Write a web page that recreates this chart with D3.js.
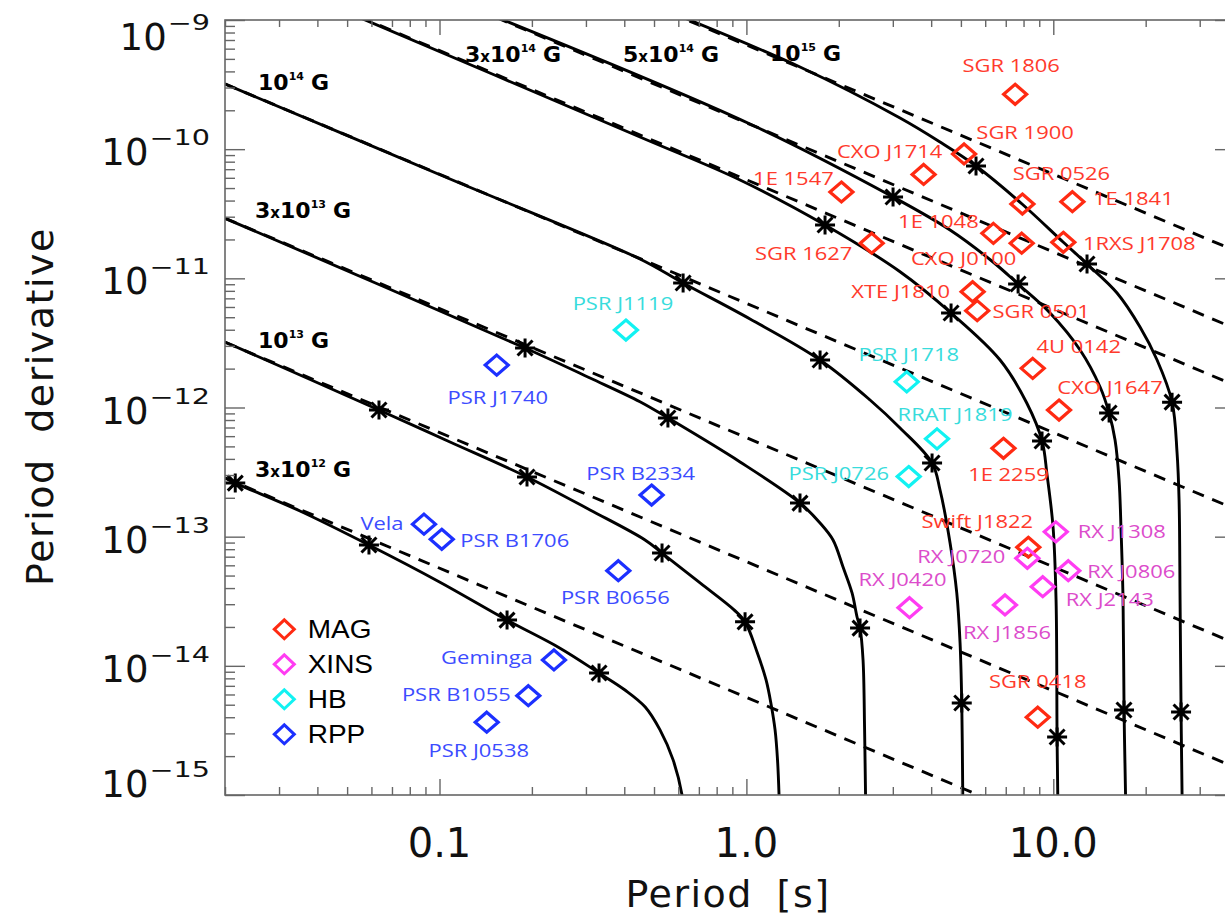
<!DOCTYPE html>
<html><head><meta charset="utf-8">
<script src="https://cdn.jsdelivr.net/npm/d3@7"></script>
<style>
html,body{margin:0;padding:0;background:#fff;}
svg{display:block;}
</style></head>
<body>
<svg id="chart" width="1225" height="922"></svg>
<script>
// ================= DATA =================
const categories = ["MAG", "XINS", "HB", "RPP"];

const magNames = ["SGR 1806","SGR 1900","CXO J1714","1E 1547","SGR 0526","1E 1841","1E 1048","CXO J0100","1RXS J1708","SGR 1627","XTE J1810","SGR 0501","4U 0142","CXO J1647","1E 2259","Swift J1822","SGR 0418"];
const magP     = [7.51, 5.12, 3.78, 2.04, 7.93, 11.54, 6.38, 7.89, 10.78, 2.56, 5.46, 5.65, 8.57, 10.44, 6.88, 8.29, 8.90];
const magPdot  = [2.66e-10, 9.18e-11, 6.37e-11, 4.66e-11, 3.76e-11, 3.92e-11, 2.23e-11, 1.87e-11, 1.90e-11, 1.87e-11, 7.88e-12, 5.62e-12, 2.01e-12, 9.56e-13, 4.83e-13, 8.28e-14, 4.00e-15];

const xinsNames = ["RX J1308","RX J0720","RX J0806","RX J2143","RX J0420","RX J1856"];
const xinsP     = [10.19, 8.23, 11.19, 9.24, 3.40, 6.96];
const xinsPdot  = [1.09e-13, 6.80e-14, 5.45e-14, 4.10e-14, 2.82e-14, 2.96e-14];

const hbNames = ["PSR J1119","PSR J1718","RRAT J1819","PSR J0726"];
const hbP     = [0.405, 3.33, 4.18, 3.38];
const hbPdot  = [3.98e-12, 1.58e-12, 5.72e-13, 2.92e-13];

const rppNames = ["PSR J1740","PSR B2334","Vela","PSR B1706","PSR B0656","Geminga","PSR B1055","PSR J0538"];
const rppP     = [0.1536, 0.491, 0.0890, 0.1017, 0.3825, 0.236, 0.1947, 0.1425];
const rppPdot  = [2.13e-12, 2.10e-13, 1.25e-13, 9.54e-14, 5.45e-14, 1.11e-14, 5.87e-15, 3.66e-15];

// constant-field lines (dashed): B label parts and Pdot at the two ends of the period range
const fieldMant = ["3", "", "3", "", "3", "5", ""];
const fieldExp  = ["12", "13", "13", "14", "14", "14", "15"];
const dashP = [0.02, 38.8];
const dashPdot = [
  [2.85e-13, 1.469e-16],
  [3.20e-12, 1.650e-15],
  [2.92e-11, 1.505e-14],
  [3.20e-10, 1.650e-13],
  [2.90e-9,  1.495e-12],
  [8.00e-9,  4.124e-12],
  [3.20e-8,  1.650e-11]
];

// evolutionary tracks (solid), [P, Pdot]
const solid3e12 = [[0.0200,2.85e-13],[0.0216,2.60e-13],[0.0351,1.58e-13],[0.0589,8.62e-14],[0.100,4.46e-14],[0.166,2.26e-14],[0.247,1.37e-14],[0.331,8.80e-15],[0.402,6.50e-15],[0.468,4.80e-15],[0.523,3.19e-15],[0.577,1.87e-15],[0.617,1.0e-15],[0.624,7.7e-16]];
const solid1e13 = [[0.0200,3.215e-12],[0.0635,9.57e-13],[0.1082,5.41e-13],[0.1928,2.90e-13],[0.3094,1.61e-13],[0.4674,9.43e-14],[0.531,7.47e-14],[0.7064,4.38e-14],[0.9114,2.71e-14],[0.990,2.19e-14],[1.083,1.28e-14],[1.159,7.77e-15],[1.203,5.07e-15],[1.240,3.19e-15],[1.263,1.87e-15],[1.2775,1.0e-15],[1.282,7.0e-16]];
const solid3e13 = [[0.0200,2.916e-11],[0.190,2.888e-12],[0.3094,1.692e-12],[0.4500,1.109e-12],[0.5553,8.30e-13],[0.9534,3.79e-13],[1.4954,1.823e-13],[1.7377,1.276e-13],[1.9155,9.43e-14],[2.0648,5.82e-14],[2.2093,3.665e-14],[2.2938,2.388e-14],[2.346,1.964e-14],[2.3994,1.110e-14],[2.4265,3.362e-15],[2.4448,1.0e-15],[2.454,7.0e-16]];
const solid1e14 = [[0.0200,3.195e-10],[0.1082,5.875e-11],[0.4500,1.412e-11],[0.6216,9.20e-12],[1.0277,4.845e-12],[1.7377,2.332e-12],[2.5287,1.143e-12],[3.167,6.94e-13],[4.0267,3.719e-13],[4.2756,2.298e-13],[4.6093,8.935e-14],[4.847,3.665e-14],[4.9684,1.503e-14],[5.0321,5.157e-15],[5.070,1.0e-15],[5.0814,7.0e-16]];
const solid3e14 = [[0.04396,1.307e-9],[0.4500,1.243e-10],[0.9534,5.771e-11],[1.8042,2.588e-11],[3.167,1.125e-11],[4.644,5.391e-12],[6.7087,2.332e-12],[8.195,1.083e-12],[9.1927,5.505e-13],[9.5436,3.002e-13],[9.9823,1.188e-13],[10.21,3.234e-14],[10.287,2.813e-15],[10.341,1.0e-15],[10.364,7.0e-16]];
const solid5e14 = [[0.1257,1.272e-9],[1.0277,1.566e-10],[3.0049,4.263e-11],[4.6093,2.367e-11],[6.3635,1.338e-11],[7.6771,9.041e-12],[9.7604,5.391e-12],[12.226,2.787e-12],[14.208,1.441e-12],[15.196,9.069e-13],[15.895,5.604e-13],[16.379,2.746e-13],[16.627,1.126e-13],[16.878,3.234e-14],[17.005,4.552e-15],[17.197,1.0e-15],[17.262,7.0e-16]];
const solid1e15 = [[0.4500,1.428e-9],[1.4954,4.326e-10],[3.167,1.743e-10],[4.2756,1.136e-10],[5.6018,7.409e-11],[7.9108,3.763e-11],[10.761,1.911e-11],[12.884,1.291e-11],[16.135,7.70e-12],[19.17,4.201e-12],[21.785,2.332e-12],[24.381,1.103e-12],[25.312,4.444e-13],[25.695,1.923e-13],[25.888,3.234e-14],[26.083,4.392e-15],[26.279,1.0e-15],[26.338,7.0e-16]];

// age markers (asterisks) along each track
const star3e12 = [[0.0216,2.60e-13],[0.0589,8.62e-14],[0.166,2.26e-14],[0.331,8.80e-15]];
const star1e13 = [[0.0635,9.57e-13],[0.1928,2.90e-13],[0.531,7.47e-14],[0.990,2.19e-14]];
const star3e13 = [[0.190,2.89e-12],[0.555,8.30e-13],[1.495,1.82e-13],[2.346,1.96e-14]];
const star1e14 = [[0.622,9.20e-12],[1.738,2.33e-12],[4.027,3.72e-13],[5.032,5.16e-15]];
const star3e14 = [[1.804,2.59e-11],[4.644,5.39e-12],[9.19,5.50e-13],[10.29,2.81e-15]];
const star5e14 = [[3.005,4.26e-11],[7.68,9.04e-12],[15.20,9.07e-13],[17.00,4.55e-15]];
const star1e15 = [[5.60,7.41e-11],[12.88,1.29e-11],[24.38,1.10e-12],[26.08,4.39e-15]];

const xTickValues = [0.1, 1, 10];
const xTickLabels = ["0.1", "1.0", "10.0"];
const yTickExps = [-9, -10, -11, -12, -13, -14, -15];

// ================= LAYOUT / STYLE =================
const M = {left: 225, right: 1234, top: 20, bottom: 795};
const markColor  = {MAG: "#ff2a12", XINS: "#ff3cf2", HB: "#12f2f2", RPP: "#1c30ff"};
const labelColor = {MAG: "#ff3a2c", XINS: "#dc4ccb", HB: "#38dcdc", RPP: "#3c4cff"};
// label centre offsets from the diamond (pixels)
const labelOffset = {
  "SGR 1806":[-4,-29], "SGR 1900":[61,-21], "CXO J1714":[-34,-23], "1E 1547":[-48,-14],
  "SGR 0526":[39,-31], "1E 1841":[61,-3], "1E 1048":[-55,-12], "CXO J0100":[-58,15],
  "1RXS J1708":[76,1], "SGR 1627":[-68,10], "XTE J1810":[-72,0], "SGR 0501":[64,1],
  "4U 0142":[46,-22], "CXO J1647":[51,-23], "1E 2259":[5,26], "Swift J1822":[-51,-26],
  "SGR 0418":[0,-36],
  "RX J1308":[66,0], "RX J0720":[-66,-2], "RX J0806":[63,1], "RX J2143":[67,13],
  "RX J0420":[-7,-28], "RX J1856":[2,28],
  "PSR J1119":[-3,-27], "PSR J1718":[2,-27], "RRAT J1819":[18,-24], "PSR J0726":[-70,-3],
  "PSR J1740":[1,32], "PSR B2334":[-11,-22], "Vela":[-42,-1], "PSR B1706":[73,1],
  "PSR B0656":[-3,27], "Geminga":[-67,-2], "PSR B1055":[-72,-1], "PSR J0538":[-8,28]
};
const fieldLabelPos = [[255,477],[258,348],[255,218],[258,90],[465,62],[623,62],[770,61]];

// ================= DRAW =================
const svg = d3.select("#chart");
const x = d3.scaleLog().domain([0.02, 38.8]).range([M.left, M.right]);
const y = d3.scaleLog().domain([1e-15, 1e-9]).range([M.bottom, M.top]);

svg.append("defs").append("clipPath").attr("id", "clip")
  .append("rect").attr("x", M.left).attr("y", M.top)
  .attr("width", M.right - M.left).attr("height", M.bottom - M.top);

const plot = svg.append("g").attr("clip-path", "url(#clip)");

const straight = d3.line().x(d => x(d[0])).y(d => y(d[1]));
const smooth = d3.line().x(d => x(d[0])).y(d => y(d[1])).curve(d3.curveCatmullRom.alpha(0.5));

dashPdot.forEach(pd => {
  plot.append("path").datum(dashP.map((p, j) => [p, pd[j]]))
    .attr("d", straight).attr("fill", "none").attr("stroke", "#000")
    .attr("stroke-width", 2.9).attr("stroke-dasharray", "12,9");
});

const tracks = [solid3e12, solid1e13, solid3e13, solid1e14, solid3e14, solid5e14, solid1e15];
tracks.forEach(t => {
  plot.append("path").datum(t).attr("d", smooth).attr("fill", "none")
    .attr("stroke", "#000").attr("stroke-width", 2.9);
});

const stars = [].concat(star3e12, star1e13, star3e13, star1e14, star3e14, star5e14, star1e15);
const starPath = "M-10,0H10M0,-9.5V9.5M-7.5,-7.5L7.5,7.5M-7.5,7.5L7.5,-7.5";
plot.selectAll("path.star").data(stars).enter().append("path").attr("class", "star")
  .attr("transform", d => `translate(${x(d[0])},${y(d[1])})`)
  .attr("d", starPath).attr("stroke", "#000").attr("stroke-width", 3).attr("fill", "none");

// axes
const axisColor = "#666";
function minorTicks(lo, hi) {
  const out = [];
  for (let e = Math.floor(Math.log10(lo)); e <= Math.ceil(Math.log10(hi)); e++)
    for (let k = 2; k <= 9; k++) { const v = k * Math.pow(10, e); if (v >= lo && v <= hi) out.push(v); }
  return out;
}
const xMaj = [0.1, 1, 10], xMin = minorTicks(0.02, 38.8).filter(v => xMaj.indexOf(v) < 0);
const yMaj = yTickExps.map(e => Math.pow(10, e));
const yMin = minorTicks(1e-15, 1e-9);

function styleAxis(g) {
  g.select(".domain").remove();
  g.selectAll("line").attr("stroke", axisColor).attr("stroke-width", 1.4);
  g.selectAll("text").remove();
}
const axes = [
  [d3.axisTop(x).tickValues(xMaj).tickSize(16), `translate(0,${M.bottom})`],
  [d3.axisTop(x).tickValues(xMin).tickSize(8), `translate(0,${M.bottom})`],
  [d3.axisBottom(x).tickValues(xMaj).tickSize(15), `translate(0,${M.top})`],
  [d3.axisBottom(x).tickValues(xMin).tickSize(7), `translate(0,${M.top})`],
  [d3.axisRight(y).tickValues(yMaj).tickSize(20), `translate(${M.left},0)`],
  [d3.axisRight(y).tickValues(yMin).tickSize(10), `translate(${M.left},0)`],
  [d3.axisLeft(y).tickValues(yMaj).tickSize(19), `translate(${M.right},0)`],
  [d3.axisLeft(y).tickValues(yMin).tickSize(8), `translate(${M.right},0)`]
];
axes.forEach(([ax, tr]) => svg.append("g").attr("transform", tr).call(ax).call(styleAxis));

svg.append("rect").attr("x", M.left).attr("y", M.top)
  .attr("width", M.right - M.left).attr("height", M.bottom - M.top)
  .attr("fill", "none").attr("stroke", axisColor).attr("stroke-width", 1.6);

// tick labels
const tl = svg.append("g").attr("fill", "#111").attr("font-family", "DejaVu Sans");
yTickExps.forEach(e => {
  const ty = y(Math.pow(10, e));
  const base = Math.min(Math.max(ty + 16, 50), 797);
  const sup = tl.append("text").attr("text-anchor", "end").attr("font-size", 20.5)
    .attr("transform", `translate(210,${base - 20}) scale(1.4,1)`).text("\u2212" + Math.abs(e));
  const w = sup.node().getComputedTextLength() * 1.4;
  tl.append("text").attr("text-anchor", "end").attr("font-size", 37)
    .attr("x", 210 - w - 1).attr("y", base).text("10");
});
xTickValues.forEach((v, i) => {
  tl.append("text").attr("text-anchor", "middle").attr("font-size", 40)
    .attr("x", x(v)).attr("y", 857).text(xTickLabels[i]);
});

// axis titles
tl.append("text").attr("text-anchor", "middle").attr("font-size", 38)
  .attr("letter-spacing", 1.5).attr("word-spacing", 10)
  .attr("x", 728).attr("y", 907).text("Period [s]");
tl.append("text").attr("text-anchor", "middle").attr("font-size", 38)
  .attr("letter-spacing", 1.5).attr("word-spacing", 12)
  .attr("transform", "translate(53,406.5) rotate(-90)").text("Period derivative");

// field labels
const fl = svg.append("g").attr("font-family", "DejaVu Sans").attr("font-weight", "bold").attr("fill", "#000");
fieldExp.forEach((ex, i) => {
  const t = fl.append("text").attr("x", fieldLabelPos[i][0]).attr("y", fieldLabelPos[i][1]).attr("font-size", 22);
  if (fieldMant[i]) {
    t.append("tspan").text(fieldMant[i]);
    t.append("tspan").attr("font-size", 15).text("x");
  }
  t.append("tspan").text("10");
  t.append("tspan").attr("font-size", 11).attr("dy", -10).text(ex);
  t.append("tspan").attr("dy", 10).attr("dx", 7).text("G");
});

// data points
const diamond = (w, h) => `M0,${-h}L${w},0L0,${h}L${-w},0Z`;
const groups = [
  ["MAG", magNames, magP, magPdot],
  ["XINS", xinsNames, xinsP, xinsPdot],
  ["HB", hbNames, hbP, hbPdot],
  ["RPP", rppNames, rppP, rppPdot]
];
const pts = svg.append("g");
const lbl = svg.append("g").attr("font-family", "Open Sans").attr("font-size", 18);
groups.forEach(([cat, names, P, Pd]) => {
  const data = names.map((n, i) => ({n, p: P[i], pd: Pd[i]}));
  pts.selectAll(null).data(data).enter().append("path")
    .attr("transform", d => `translate(${x(d.p)},${y(d.pd)})`)
    .attr("d", diamond(11.5, 10)).attr("fill", "none")
    .attr("stroke", markColor[cat]).attr("stroke-width", 3.2);
  lbl.selectAll(null).data(data).enter().append("text")
    .attr("text-anchor", "middle").attr("fill", labelColor[cat])
    .attr("transform", d => {
      const o = labelOffset[d.n] || [0, -25];
      return `translate(${x(d.p) + o[0]},${y(d.pd) + o[1] + 6.5}) scale(1.22,1)`;
    })
    .text(d => d.n);
});

// legend
const lg = svg.append("g");
categories.forEach((c, i) => {
  const cy = 629.3 + i * 35;
  lg.append("path").attr("transform", `translate(284.3,${cy})`).attr("d", diamond(10, 9.5))
    .attr("fill", "none").attr("stroke", markColor[c]).attr("stroke-width", 3);
  lg.append("text").attr("font-family", "Liberation Sans").attr("font-size", 25).attr("fill", "#000")
    .attr("transform", `translate(307.7,${cy + 9}) scale(1.12,1)`).text(c);
});
</script>
</body></html>
